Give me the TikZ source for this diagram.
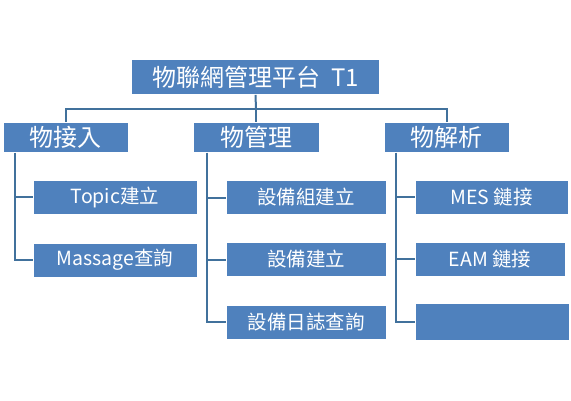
\documentclass[tikz,border=0pt]{standalone}
\usepackage{fontspec}
\setmainfont{Noto Sans CJK TC}
\usetikzlibrary{positioning}
\definecolor{boxblue}{HTML}{4F81BD}
\definecolor{lineblue}{HTML}{41719C}

\begin{document}
\begin{tikzpicture}[
  x=1pt, y=-1pt,
  box/.style   = {rectangle, draw=white, line width=0.6pt, fill=boxblue, text=white, inner sep=0pt, align=center},
  root/.style  = {box, minimum width=248pt, minimum height=35pt, font=\fontsize{24}{26}\selectfont},
  group/.style = {box, minimum height=30pt, font=\fontsize{24}{26}\selectfont},
  leaf/.style  = {box, minimum height=34pt, font=\fontsize{19.5}{21}\selectfont},
  conn/.style  = {draw=lineblue, line width=2pt},
  ]
  \useasboundingbox (0,0) rectangle (571,400);
  % Platform
  \node (top) at (255.5,77)   [root]                         {物聯網管理平台\ \ T1};
  % Second level
  \node (wa)  at (65.5,137.5) [group, minimum width=125pt]   {物接入};
  \node (wm)  at (256,137.5)  [group, minimum width=126pt]   {物管理};
  \node (wp)  at (446.5,137.5)[group, minimum width=125pt]   {物解析};
  % Leaves under 物接入
  \node (topic) at (115,197)  [leaf, minimum width=164pt]    {Topic建立};
  \node (msg)   at (115,260)  [leaf, minimum width=164pt]    {Massage查詢};
  % Leaves under 物管理
  \node (grp)   at (306,197.5)[leaf, minimum width=160pt]    {設備組建立};
  \node (dev)   at (306,259.5)[leaf, minimum width=160pt]    {設備建立};
  \node (log)   at (306,322)  [leaf, minimum width=160pt]    {設備日誌查詢};
  % Leaves under 物解析
  \node (mes)   at (491.5,197)[leaf, minimum width=153pt]    {MES 鏈接};
  \node (eam)   at (490,259)  [leaf, minimum width=150pt]    {EAM 鏈接};
  \node (blank) at (492,321.5)[leaf, minimum width=154pt, minimum height=37pt] {};

  % Bus under the platform
  \coordinate (bus) at (256,109);
  \draw[conn] (top.south) -- (bus);
  \draw[conn] (wa.north) |- (bus) -| (wp.north);
  \draw[conn] (bus) -- (wm.north);

  % Branches
  \draw[conn] ([xshift=12pt]wa.south west) |- (topic.west);
  \draw[conn] ([xshift=12pt]wa.south west) |- (msg.west);
  \draw[conn] ([xshift=14pt]wm.south west) |- (grp.west);
  \draw[conn] ([xshift=14pt]wm.south west) |- (dev.west);
  \draw[conn] ([xshift=14pt]wm.south west) |- (log.west);
  \draw[conn] ([xshift=12pt]wp.south west) |- (mes.west);
  \draw[conn] ([xshift=12pt]wp.south west) |- (eam.west);
  \draw[conn] ([xshift=12pt]wp.south west) |- (blank.west);
\end{tikzpicture}
\end{document}
